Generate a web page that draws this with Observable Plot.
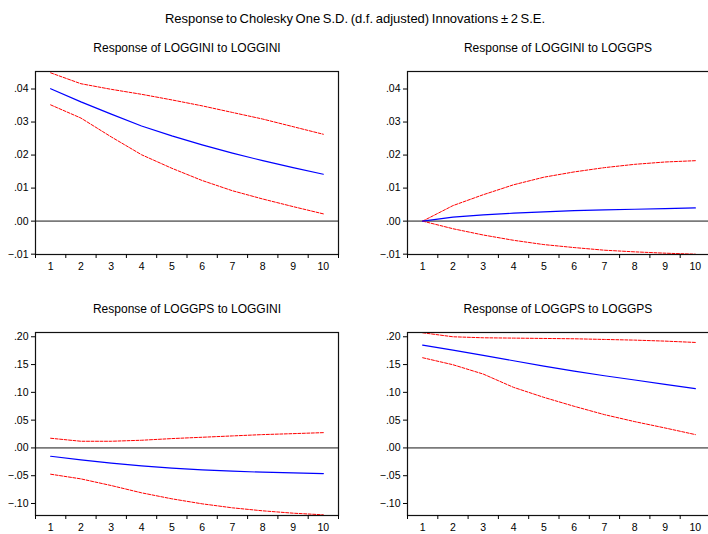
<!DOCTYPE html>
<html>
<head>
<meta charset="utf-8">
<script src="https://cdn.jsdelivr.net/npm/d3@7"></script>
<script src="https://cdn.jsdelivr.net/npm/@observablehq/plot@0.6"></script>
<style>
  html, body { margin: 0; padding: 0; background: #fff; }
  #wrap { position: relative; width: 708px; height: 534px; overflow: hidden; background: #fff;
          font-family: "Liberation Sans", Arial, sans-serif; color: #000; }
  .ttl { position: absolute; white-space: nowrap; transform: translate(-50%, -50%); }
  .main { font-size: 13px; word-spacing: -1px; }
  .sub { font-size: 12px; }
  .pnl { position: absolute; }
  .pnl svg { max-width: none !important; display: block; }
</style>
</head>
<body>
<div id="wrap"></div>
<script>
// ---- data ----
const mainTitle = "Response to Cholesky One S.D. (d.f. adjusted) Innovations \u00b1 2 S.E.";
const panelTitles = [
  "Response of LOGGINI to LOGGINI",
  "Response of LOGGINI to LOGGPS",
  "Response of LOGGPS to LOGGINI",
  "Response of LOGGPS to LOGGPS"
];
const periods = [1, 2, 3, 4, 5, 6, 7, 8, 9, 10];

// LOGGINI to LOGGINI
const giniGini      = [0.0401, 0.0361, 0.0324, 0.0288, 0.0258, 0.0231, 0.0206, 0.0183, 0.0162, 0.0142];
const giniGiniUpper = [0.0449, 0.0416, 0.0399, 0.0384, 0.0367, 0.0349, 0.0329, 0.0309, 0.0286, 0.0263];
const giniGiniLower = [0.0352, 0.0312, 0.0255, 0.0201, 0.0160, 0.0123, 0.0092, 0.0067, 0.0044, 0.0022];
// LOGGINI to LOGGPS
const giniGps      = [0.0000, 0.0012, 0.0019, 0.0024, 0.0028, 0.0032, 0.0034, 0.0036, 0.0038, 0.0040];
const giniGpsUpper = [0.0000, 0.0047, 0.0080, 0.0110, 0.0133, 0.0149, 0.0162, 0.0172, 0.0179, 0.0183];
const giniGpsLower = [0.0000, -0.0023, -0.0042, -0.0058, -0.0071, -0.0080, -0.0088, -0.0093, -0.0097, -0.0100];
// LOGGPS to LOGGINI
const gpsGini      = [-0.0150, -0.0216, -0.0275, -0.0323, -0.0365, -0.0395, -0.0419, -0.0437, -0.0449, -0.0461];
const gpsGiniUpper = [0.0174, 0.0120, 0.0120, 0.0138, 0.0168, 0.0192, 0.0216, 0.0240, 0.0257, 0.0275];
const gpsGiniLower = [-0.0473, -0.0557, -0.0677, -0.0808, -0.0916, -0.1006, -0.1078, -0.1132, -0.1174, -0.1204];
// LOGGPS to LOGGPS
const gpsGps      = [0.1850, 0.1760, 0.1665, 0.1569, 0.1473, 0.1383, 0.1299, 0.1222, 0.1144, 0.1066];
const gpsGpsUpper = [0.2072, 0.2000, 0.1982, 0.1976, 0.1970, 0.1964, 0.1952, 0.1940, 0.1922, 0.1898];
const gpsGpsLower = [0.1623, 0.1497, 0.1329, 0.1090, 0.0910, 0.0749, 0.0599, 0.0473, 0.0359, 0.0240];

const yTicksTop = [-0.01, 0.00, 0.01, 0.02, 0.03, 0.04];
const yTicksBottom = [-0.10, -0.05, 0.00, 0.05, 0.10, 0.15, 0.20];
const yDomainTop = [-0.0101, 0.0453];
const yDomainBottom = [-0.1216, 0.2077];

// ---- drawing ----
const fmtY = d => d3.format(".2f")(d).replace("0.", ".");
const xBounds = [0.5, 1.5, 2.5, 3.5, 4.5, 5.5, 6.5, 7.5, 8.5, 9.5, 10.5];

function panel({resp, upper, lower, yDomain, yTicks, width, height, mL, mR, mT, mB}) {
  const pts = arr => arr.map((v, i) => ({x: periods[i], y: v}));
  return Plot.plot({
    width, height,
    marginLeft: mL, marginRight: mR, marginTop: mT, marginBottom: mB,
    style: {fontFamily: "'Liberation Sans', Arial, sans-serif", fontSize: "10.5px", color: "#000", background: "transparent", overflow: "visible", maxWidth: "none"},
    x: {domain: [0.5, 10.5]},
    y: {domain: yDomain},
    marks: [
      Plot.ruleY([0], {stroke: "#7a7a7a", strokeWidth: 1.6}),
      Plot.line(pts(upper), {x: "x", y: "y", stroke: "#ff0000", strokeWidth: 1, strokeDasharray: "3,1.5", clip: true}),
      Plot.line(pts(lower), {x: "x", y: "y", stroke: "#ff0000", strokeWidth: 1, strokeDasharray: "3,1.5", clip: true}),
      Plot.line(pts(resp), {x: "x", y: "y", stroke: "#0000ff", strokeWidth: 1.2, clip: true}),
      Plot.frame({stroke: "#111", strokeWidth: 1.2}),
      Plot.axisY({ticks: yTicks, tickFormat: fmtY, tickSize: 4, tickPadding: 3, label: null}),
      Plot.axisX({ticks: xBounds, tickFormat: () => "", tickSize: 4, label: null}),
      Plot.axisX({ticks: periods, tickFormat: d => String(d), tickSize: 0, tickPadding: 8, label: null})
    ]
  });
}

const wrap = document.getElementById("wrap");

function addText(cls, text, cx, cy) {
  const d = document.createElement("div");
  d.className = "ttl " + cls;
  d.textContent = text;
  d.style.left = cx + "px";
  d.style.top = cy + "px";
  wrap.appendChild(d);
}
function addPanel(svg, left, top, w, h) {
  const d = document.createElement("div");
  d.className = "pnl";
  d.style.left = left + "px";
  d.style.top = top + "px";
  d.style.width = w + "px";
  d.style.height = h + "px";
  d.appendChild(svg);
  wrap.appendChild(d);
}

addText("main", mainTitle, 355, 18);

const topGeo = {height: 220, mT: 11, mB: 26};
const botGeo = {height: 214, mT: 12, mB: 19};
const leftGeo = {width: 354, mL: 35, mR: 16};
const rightGeo = {width: 360, mL: 53, mR: 4};

addPanel(panel({resp: giniGini, upper: giniGiniUpper, lower: giniGiniLower, yDomain: yDomainTop, yTicks: yTicksTop, ...topGeo, ...leftGeo}), 0, 60, 354, 220);
addPanel(panel({resp: giniGps, upper: giniGpsUpper, lower: giniGpsLower, yDomain: yDomainTop, yTicks: yTicksTop, ...topGeo, ...rightGeo}), 354, 60, 360, 220);
addPanel(panel({resp: gpsGini, upper: gpsGiniUpper, lower: gpsGiniLower, yDomain: yDomainBottom, yTicks: yTicksBottom, ...botGeo, ...leftGeo}), 0, 320, 354, 214);
addPanel(panel({resp: gpsGps, upper: gpsGpsUpper, lower: gpsGpsLower, yDomain: yDomainBottom, yTicks: yTicksBottom, ...botGeo, ...rightGeo}), 354, 320, 360, 214);

addText("sub", panelTitles[0], 187, 48);
addText("sub", panelTitles[1], 558, 48);
addText("sub", panelTitles[2], 187, 309);
addText("sub", panelTitles[3], 558, 309);
</script>
</body>
</html>
